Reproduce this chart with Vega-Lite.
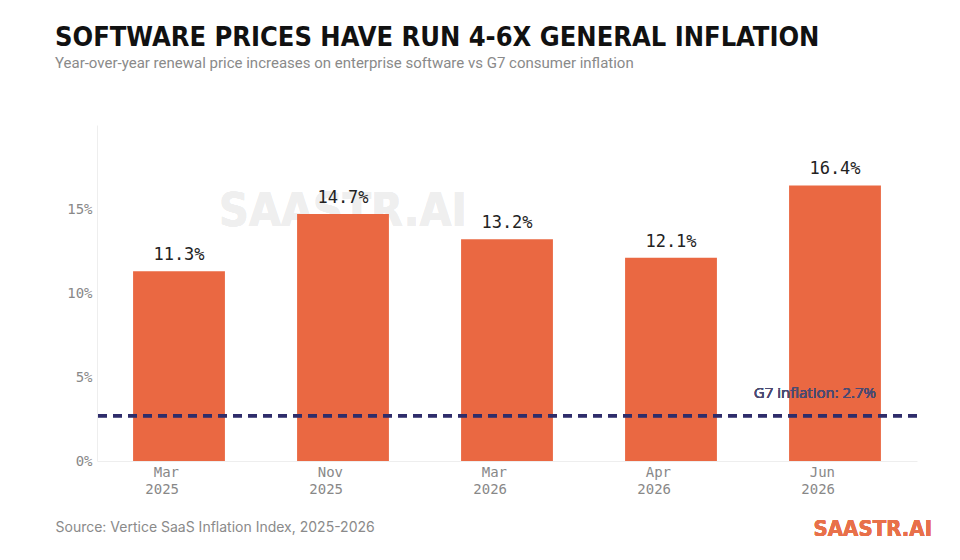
{
  "$schema": "https://vega.github.io/schema/vega-lite/v6.json",
  "width": 820,
  "height": 336,
  "autosize": {"type": "none"},
  "padding": {"left": 97, "top": 125, "right": 43, "bottom": 99},
  "background": "white",
  "title": {
    "text": "SOFTWARE PRICES HAVE RUN 4-6X GENERAL INFLATION",
    "subtitle": "Year-over-year renewal price increases on enterprise software vs G7 consumer inflation",
    "anchor": "start",
    "frame": "group",
    "dx": -42,
    "offset": 53,
    "font": "DejaVu Sans Condensed",
    "fontWeight": "bold",
    "fontSize": 27,
    "color": "#111111",
    "subtitleFont": "Roboto",
    "subtitleFontSize": 15,
    "subtitleColor": "#8a8a8a",
    "subtitlePadding": 4
  },
  "data": {
    "values": [
      {"period": "Mar 2025", "increase": 11.3},
      {"period": "Nov 2025", "increase": 14.7},
      {"period": "Mar 2026", "increase": 13.2},
      {"period": "Apr 2026", "increase": 12.1},
      {"period": "Jun 2026", "increase": 16.4}
    ]
  },
  "layer": [
    {
      "mark": {"type": "text", "font": "DejaVu Sans Condensed", "fontWeight": "bold", "fontSize": 46, "color": "#efefef", "baseline": "middle"},
      "encoding": {
        "x": {"datum": "Nov 2025", "type": "nominal"},
        "y": {"datum": 14.8, "type": "quantitative"},
        "text": {"value": "SAASTR.AI"}
      }
    },
    {
      "mark": {"type": "bar", "color": "#EA6842"},
      "encoding": {
        "x": {
          "field": "period",
          "type": "nominal",
          "scale": {"domain": ["Mar 2025", "Nov 2025", "Mar 2026", "Apr 2026", "Jun 2026"], "paddingInner": 0.44, "paddingOuter": 0.22},
          "axis": {
            "labelAngle": 0,
            "labelExpr": "split(datum.label, ' ')",
            "labelFont": "DejaVu Sans Mono",
            "labelFontSize": 14,
            "labelColor": "#888888",
            "labelLineHeight": 17,
            "labelPadding": 11,
            "ticks": false,
            "domainColor": "#eeeeee",
            "title": "Source: Vertice SaaS Inflation Index, 2025-2026",
            "titleFont": "Inter",
            "titleFontSize": 14,
            "titleFontWeight": "normal",
            "titleColor": "#8a8a8a",
            "titleAnchor": "start",
            "titleAlign": "left",
            "titleX": -42,
            "titleY": 59
          }
        },
        "y": {
          "field": "increase",
          "type": "quantitative",
          "scale": {"domain": [0, 19]},
          "axis": {
            "values": [0, 5, 10, 15],
            "labelExpr": "datum.value + '%'",
            "labelFont": "DejaVu Sans Mono",
            "labelFontSize": 14,
            "labelColor": "#888888",
            "labelPadding": 5,
            "ticks": false,
            "domainColor": "#eeeeee",
            "gridColor": "#eeeeee",
            "title": null
          }
        }
      }
    },
    {
      "transform": [{"calculate": "format(datum.increase, '.1f') + '%'", "as": "label"}],
      "mark": {"type": "text", "font": "DejaVu Sans Mono", "fontSize": 17, "color": "#222222", "baseline": "bottom", "dy": -7},
      "encoding": {
        "x": {"field": "period", "type": "nominal"},
        "y": {"field": "increase", "type": "quantitative"},
        "text": {"field": "label", "type": "nominal"}
      }
    },
    {
      "mark": {"type": "rule", "color": "#2f2d6b", "strokeWidth": 3, "strokeDash": [9, 6]},
      "encoding": {"y": {"datum": 2.7, "type": "quantitative"}}
    },
    {
      "mark": {"type": "text", "font": "Open Sans", "fontWeight": "normal", "fontSize": 15, "color": "#4a4a72", "align": "right", "baseline": "bottom", "dx": 41, "dy": -15},
      "encoding": {
        "x": {"datum": "Jun 2026", "type": "nominal"},
        "y": {"datum": 2.7, "type": "quantitative"},
        "text": {"value": "G7 inflation: 2.7%"}
      }
    },
    {
      "mark": {"type": "text", "font": "DejaVu Sans Condensed", "fontWeight": "bold", "fontSize": 22, "color": "#E8704A", "align": "right", "baseline": "alphabetic", "dx": 97},
      "encoding": {
        "x": {"datum": "Jun 2026", "type": "nominal"},
        "y": {"datum": -4.47, "type": "quantitative"},
        "text": {"value": "SAASTR.AI"}
      }
    }
  ],
  "config": {"view": {"stroke": null}}
}
